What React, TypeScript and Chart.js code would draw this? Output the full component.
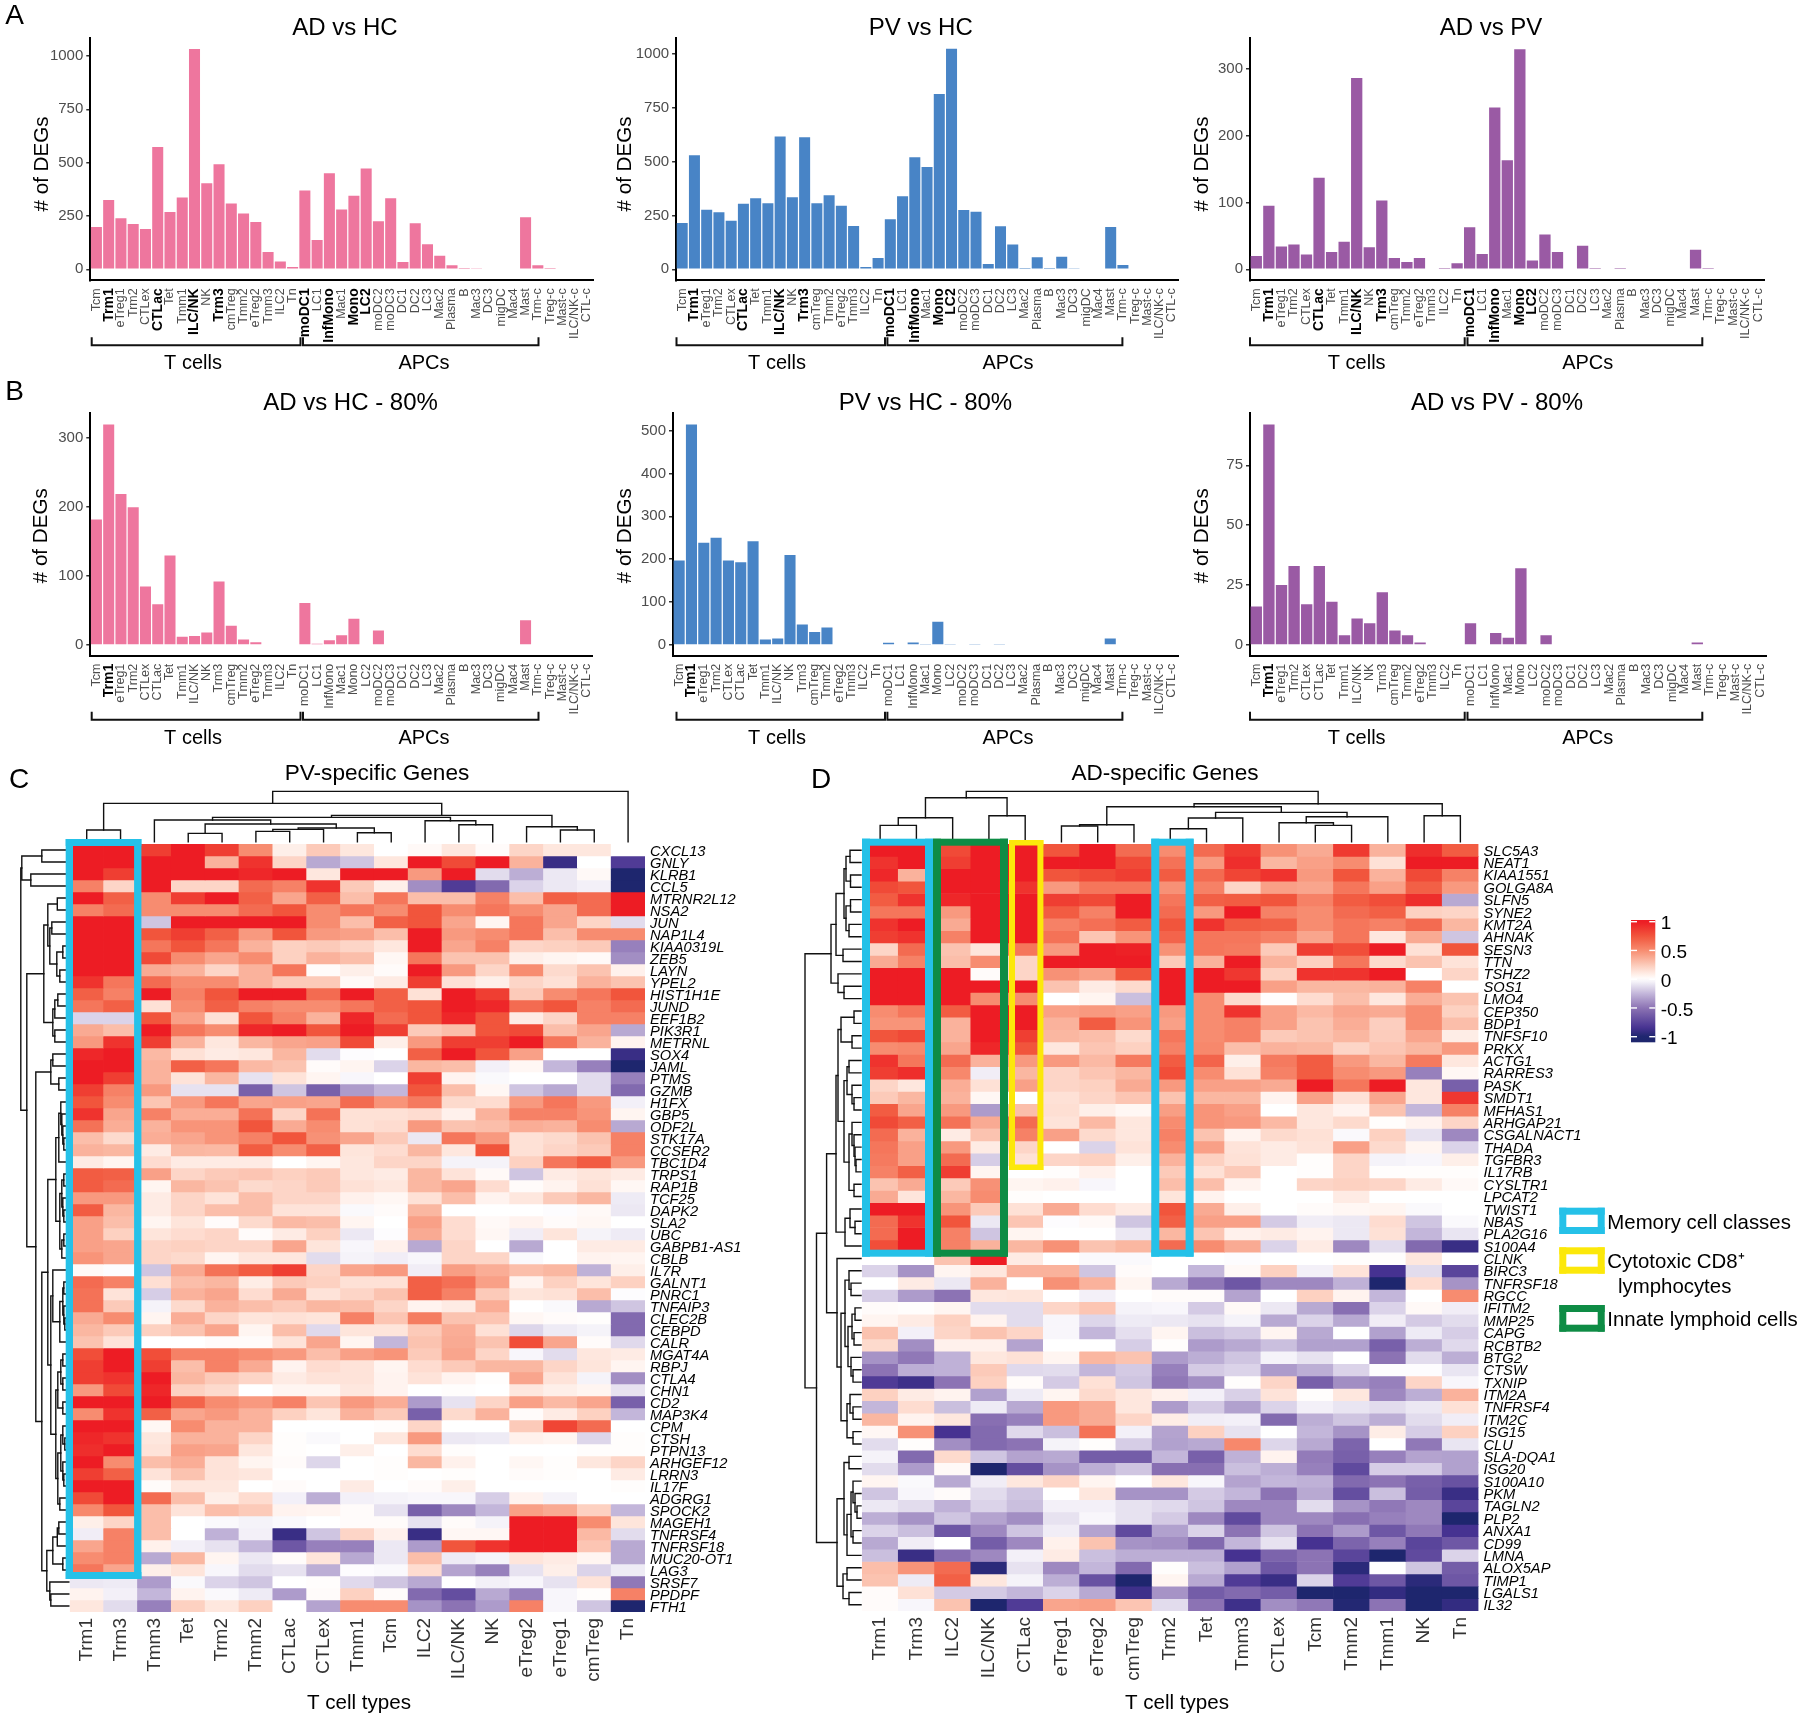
import React, { useEffect, useRef } from "react";
import { Chart, registerables } from "chart.js";

Chart.register(...registerables);
const FONT = '"Liberation Sans", Arial, sans-serif';
Chart.defaults.font.family = FONT;

/* ---------- bar chart data ---------- */
const cellTypes = ["Tcm","Trm1","eTreg1","Trm2","CTLex","CTLac","Tet","Tmm1","ILC/NK","NK","Trm3","cmTreg","Tmm2","eTreg2","Tmm3","ILC2","Tn","moDC1","LC1","InfMono","Mac1","Mono","LC2","moDC2","moDC3","DC1","DC2","LC3","Mac2","Plasma","B","Mac3","DC3","migDC","Mac4","Mast","Trm-c","Treg-c","Mast-c","ILC/NK-c","CTL-c"];
const boldRowA = ["Trm1","CTLac","ILC/NK","Trm3","moDC1","InfMono","Mono","LC2"];
const boldRowB = ["Trm1"];
const adHc = [198,325,239,212,189,573,269,337,1033,403,492,309,262,222,81,36,11,369,137,450,280,345,472,225,333,34,216,117,64,19,6,3,0,0,0,244,19,6,0,0,0];
const pvHc = [215,530,277,265,226,305,330,307,617,335,614,307,344,296,201,11,53,233,340,521,476,815,1025,276,268,25,200,116,6,56,6,59,5,0,0,197,20,0,0,0,0];
const adPv = [20,95,34,37,22,137,26,41,286,33,103,17,11,17,0,2,9,63,23,242,163,329,13,52,26,0,35,2,0,2,0,0,0,0,0,29,2,0,0,0,0];
const adHc80 = [182,320,219,200,85,59,130,12,13,18,92,28,8,4,0,0,0,61,2,7,14,38,1,21,1,0,1,0,0,0,0,0,0,0,0,36,0,0,0,0,0];
const pvHc80 = [197,514,238,250,197,193,242,13,15,210,48,30,41,0,0,0,0,5,0,6,2,54,1,0,1,0,1,0,0,0,0,0,0,0,0,15,0,0,0,0,0];
const adPv80 = [16,92,25,33,17,33,18,4,11,9,22,6,4,1,0,0,0,9,0,5,3,32,0,4,0,0,0,0,0,0,0,0,0,0,0,1,0,0,0,0,0];

/* ---------- heatmap C ---------- */
const columnsC = ["Trm1","Trm3","Tmm3","Tet","Trm2","Tmm2","CTLac","CTLex","Tmm1","Tcm","ILC2","ILC/NK","NK","eTreg2","eTreg1","cmTreg","Tn"];
const genesC = ["CXCL13","GNLY","KLRB1","CCL5","MTRNR2L12","NSA2","JUN","NAP1L4","KIAA0319L","ZEB5","LAYN","YPEL2","HIST1H1E","JUND","EEF1B2","PIK3R1","METRNL","SOX4","JAML","PTMS","GZMB","H1FX","GBP5","ODF2L","STK17A","CCSER2","TBC1D4","TRPS1","RAP1B","TCF25","DAPK2","SLA2","UBC","GABPB1-AS1","CBLB","IL7R","GALNT1","PNRC1","TNFAIP3","CLEC2B","CEBPD","CALR","MGAT4A","RBPJ","CTLA4","CHN1","CD2","MAP3K4","CPM","CTSH","PTPN13","ARHGEF12","LRRN3","IL17F","ADGRG1","SPOCK2","MAGEH1","TNFRSF4","TNFRSF18","MUC20-OT1","LAG3","SRSF7","PPDPF","FTH1"];
const heatC = [
[1,1,.85,1,.85,.5,.08,.25,.12,0,.03,.12,.02,.2,.12,.12,0],
[1,1,1,1,.35,.9,.2,-.3,-.2,.12,1,.8,1,.35,-.9,0,-.8],
[1,.85,1,1,1,.95,1,.12,1,1,.45,1,-.12,-.28,-.08,.03,-1],
[.55,.2,1,.2,.2,.65,.55,.9,.25,.08,-.4,-.8,-.55,-.15,-.08,-.05,-1],
[1,.7,.5,.85,1,.7,.4,.7,.3,.6,.3,.3,.55,.3,.7,.65,1],
[.55,.65,.5,.5,.5,.65,.75,.5,.6,.5,.75,.5,.6,.5,.4,.65,1],
[1,1,-.2,1,1,1,1,.5,.3,.7,.75,.4,.05,.6,.4,.2,-.12],
[1,1,.75,.85,.7,.45,.75,.45,.42,.3,1,.45,.5,.6,.3,.5,.5],
[1,1,.6,.75,.6,.35,.22,.25,.2,.12,1,.4,.55,.2,.22,.25,-.45],
[1,1,.8,.5,.4,.5,.22,.35,.3,.04,.6,.28,.28,.08,.05,.03,-.4],
[1,1,.38,.35,.2,.35,.6,.02,.08,.02,1,.45,.2,.5,.18,.28,.07],
[.9,.6,.65,.5,.5,.35,.25,.25,.03,.1,.85,.15,.08,.2,.15,.35,.28],
[.7,.55,1,.55,.75,1,1,.65,1,.7,.15,1,.85,.25,.5,.6,.75],
[.6,.7,.15,.5,.7,.55,.5,.5,.6,.7,.75,1,.95,.65,.75,.55,.65],
[-.15,-.15,.75,.42,.15,.75,.55,.35,.95,.65,.75,.95,.75,.1,.2,.55,.55],
[.38,.3,1,.6,.5,.95,1,.75,1,.85,.25,.3,.75,.8,.3,.4,-.3],
[.45,.9,.85,.35,.12,.33,.4,.42,.8,.08,.45,.85,.85,1,.6,.35,.06],
[.95,1,.32,.15,.1,.12,.33,-.12,-.01,0,.7,1,.75,.42,0,0,-.9],
[1,1,.35,.7,.6,.32,.28,.02,.05,-.15,.33,.3,-.05,.04,-.25,-.45,-1],
[1,.85,.35,.14,.33,-.1,.14,.05,-.03,0,.85,.06,-.02,0,0,-.12,-.45],
[.85,.55,.45,-.1,-.1,-.6,-.2,-.6,-.35,-.25,.75,.3,.04,-.2,-.3,-.12,-.55],
[.75,.5,.27,.45,.6,.4,.42,.4,.65,.47,.58,.18,.17,.45,.6,.45,-.05],
[.9,.4,.55,.37,.37,.62,.2,.62,.15,.15,.17,.07,.35,.55,.55,.47,.05],
[.62,.37,.35,.47,.47,.75,.38,.5,.15,.17,.45,.28,.3,.37,.35,.5,-.3],
[.3,.18,.37,.4,.47,.55,.75,.48,.4,.25,-.08,.6,.45,.15,.18,.28,.55],
[.35,.33,.1,.33,.32,.72,.5,.7,.13,.17,.33,.12,.75,.15,.2,.25,.55],
[.1,.05,.17,.1,.1,.1,0,.05,.12,.2,.2,-.04,-.04,.22,.6,.72,.45],
[.72,.7,.42,.2,.25,.27,.22,.25,.12,.1,.33,.14,.03,-.2,.1,.13,.1],
[.72,.65,.05,.33,.28,.18,.2,.25,.15,.12,.33,.4,.17,.02,.06,.15,.04],
[.45,.45,.1,.2,.14,.3,.2,.2,.07,.04,.15,.3,.06,.12,.25,.33,-.07],
[.72,.33,.1,.2,.3,.3,.14,.14,-.02,.02,.33,0,0,0,-.01,.03,-.08],
[.42,.3,.05,.13,.02,.18,.32,.3,.05,0,.42,.17,.03,.06,.02,.04,0],
[.42,.22,.13,.17,.2,.02,.1,.22,-.08,-.01,.38,.17,.04,-.06,.13,-.04,-.07],
[.42,.4,.2,.22,.2,.2,.4,.13,-.03,.07,-.3,.2,0,-.3,0,.1,.1],
[.47,.4,.2,.18,.05,.12,.12,-.12,-.04,-.06,-.03,.2,.2,-.02,0,.06,.05],
[.03,-.01,-.2,.38,.62,.72,.85,.2,.4,.45,-.06,.43,.37,.3,.33,-.27,.08],
[.65,.55,.16,.3,.33,.09,.25,.22,.15,.15,.7,.63,.42,.06,.22,.13,.22],
[.62,.14,-.17,.35,.4,.17,.38,.14,.2,.28,.7,.55,.25,.13,.15,.3,-.01],
[.62,.25,-.04,.18,.35,.3,.25,.33,.3,.2,.06,.1,.37,0,-.02,-.3,-.2],
[.38,.5,.05,.37,.2,.13,.15,.13,.55,.27,.57,.28,.27,.04,.02,.01,-.55],
[.33,.25,.22,.28,.4,.05,.3,-.13,.13,.13,.25,.37,.15,-.14,-.07,-.04,-.55],
[.28,.14,0,0,.02,.02,.14,.4,.05,-.25,.28,.38,.28,.78,.4,.02,-.13],
[.78,1,.78,.55,.55,.5,.45,.3,.42,.47,.25,.4,.2,-.03,-.12,.12,.1],
[.85,1,.85,.3,.55,.38,.06,.17,.14,.05,.17,.25,.33,.33,.2,.13,.05],
[.85,.9,1,.33,.25,.2,.1,.14,.14,.06,.14,.06,.01,.4,.14,-.04,-.4],
[.45,.8,.95,.22,.18,0,.05,.05,.12,.06,0,.01,0,.12,.08,.05,-.1],
[1,1,1,.68,.5,.45,.55,.27,.45,.37,-.35,-.1,.2,.42,.32,.4,-.6],
[.5,.9,.7,.4,.45,.35,.22,.13,.35,.25,-.6,.18,.35,.02,.1,.22,-.25],
[1,1,.04,.5,.35,.35,0,0,0,.01,.2,0,0,.25,.82,.65,0],
[.95,.9,.12,.35,.35,.2,.01,-.02,0,.12,.45,-.08,-.07,.07,.05,-.14,.01],
[.92,1,.14,.42,.4,.12,.01,0,.08,0,.17,.01,0,0,0,.01,.01],
[1,.5,.3,.37,.14,.05,.02,-.14,0,.01,.33,.07,0,.04,.01,.12,.2],
[.85,.7,.14,.28,.14,.12,0,0,0,.01,0,.01,0,.02,.01,0,.1],
[1,1,.02,.12,.12,0,.02,0,.1,0,.02,.08,0,0,0,0,.01],
[.8,1,.65,.3,.08,.17,-.05,-.28,-.05,-.04,-.03,-.03,-.17,.06,-.04,0,0],
[.52,.75,.3,.14,.3,.25,.06,.05,.02,-.1,-.6,-.42,-.25,.42,.38,.22,-.25],
[.08,.2,.3,0,-.02,-.04,-.02,0,.02,.02,-.1,.02,-.04,1,1,.5,.13],
[-.06,.55,.3,0,-.27,-.05,-.9,-.2,.2,.07,-.9,.04,.04,1,1,.32,-.12],
[.4,.55,.07,-.05,-.1,-.25,-.65,-.45,-.45,-.08,-.35,.75,.9,1,1,.27,-.3],
[.5,.55,-.3,.33,.05,-.08,.02,.13,-.3,-.08,.3,-.07,-.04,.13,.1,.05,-.3],
[.6,.4,.08,.13,-.03,-.12,-.1,-.28,-.01,-.02,.17,-.32,-.45,-.1,.08,-.15,-.07],
[-.08,-.07,-.35,-.02,-.15,-.2,0,.01,-.13,-.2,-.3,0,-.05,-.03,-.1,.14,-.48],
[.06,-.05,-.25,.06,-.02,-.07,-.35,.02,.22,.02,-.55,-.7,-.3,-.45,-.03,.01,.55],
[.12,-.12,-.45,.22,.12,.22,0,-.32,.5,.5,-.38,-.5,-.35,.55,-.03,-.2,-1],
];

/* ---------- heatmap D ---------- */
const columnsD = ["Trm1","Trm3","ILC2","ILC/NK","CTLac","eTreg1","eTreg2","cmTreg","Trm2","Tet","Tmm3","CTLex","Tcm","Tmm2","Tmm1","NK","Tn"];
const genesD = ["SLC5A3","NEAT1","KIAA1551","GOLGA8A","SLFN5","SYNE2","KMT2A","AHNAK","SESN3","TTN","TSHZ2","SOS1","LMO4","CEP350","BDP1","TNFSF10","PRKX","ACTG1","RARRES3","PASK","SMDT1","MFHAS1","ARHGAP21","CSGALNACT1","THADA","TGFBR3","IL17RB","CYSLTR1","LPCAT2","TWIST1","NBAS","PLA2G16","S100A4","CLNK","BIRC3","TNFRSF18","RGCC","IFITM2","MMP25","CAPG","RCBTB2","BTG2","CTSW","TXNIP","ITM2A","TNFRSF4","ITM2C","ISG15","CLU","SLA-DQA1","ISG20","S100A10","PKM","TAGLN2","PLP2","ANXA1","CD99","LMNA","ALOX5AP","TIMP1","LGALS1","IL32"];
const heatD = [
[1,1,.8,1,1,.75,1,.65,.5,.65,.87,.48,.38,.87,.35,.92,.72],
[.9,1,.85,1,1,1,1,.8,.62,.45,.92,.33,.42,.5,.15,1,1],
[.95,.35,1,1,1,.75,.8,.85,.72,.65,.82,.9,.45,.75,.35,.8,.55],
[.8,.75,1,1,.9,.45,.6,.6,.48,.55,.2,.42,.4,.6,.42,.7,.45],
[.72,.9,.95,1,1,.85,.8,1,.6,.7,.72,.75,.55,.72,.78,.92,-.3],
[.6,.6,.45,1,1,.72,.55,1,.65,.45,1,.55,.5,.65,.7,.22,.2],
[.9,1,.38,1,1,.55,.63,.72,.75,.9,.72,.7,.5,.6,.55,.65,.33],
[.85,.9,.55,1,1,.62,.27,.47,.68,.6,.6,.55,.4,.6,.12,.38,-.2],
[.2,.65,.28,.13,.6,.45,1,.98,.48,.6,.58,.25,.85,.78,1,.15,.75],
[.38,.55,.3,.5,.2,1,1,1,.25,.35,1,.35,.22,.6,.18,.28,.14],
[1,1,1,.02,.2,.48,.42,.75,1,1,.88,.22,.9,.9,1,0,.2],
[1,1,1,1,1,.28,.1,.18,1,1,1,.42,.33,.33,.35,.55,0],
[1,1,1,.5,.5,0,.05,-.22,1,.5,.18,.01,.17,.3,.12,.37,.28],
[.5,.6,.72,1,1,.42,.45,.42,.45,.5,.9,.42,.32,.4,.38,.5,.22],
[.47,.47,.35,1,1,.35,.72,.47,.42,.5,.55,.42,.28,.37,.23,.5,.3],
[.75,.8,.35,1,.85,.33,.3,.18,.6,.5,.55,.25,.28,.33,.24,.4,.09],
[.5,.52,.4,.95,.75,.12,.27,.22,.55,.52,.3,.35,.33,.2,.27,.33,.45],
[.9,.6,.65,.35,.45,.45,.32,.58,.72,.68,.08,.58,.72,.45,.33,.58,.12],
[.85,.92,.52,-.06,.33,.2,.27,.33,.78,.5,.15,.55,.72,.5,.45,-.45,.04],
[.2,.12,.37,.15,.42,.2,.22,.38,.45,.42,.42,.38,1,.6,1,.12,-.6],
[.25,.33,.35,.04,0,.15,.2,.27,.28,.33,.33,.06,.42,.15,.4,.12,.88],
[.72,.4,.45,-.35,.3,.16,.08,.04,.43,.47,.42,0,.12,.06,.28,-.25,.55],
[.8,.7,.62,.38,.65,.14,.32,.12,.5,.47,.45,.32,.12,.18,.01,.06,.2],
[.65,.35,.1,.28,.55,.42,.18,.12,.55,.28,.06,.18,.15,-.02,.22,-.1,-.42],
[.6,.42,.45,.1,.2,0,-.15,.14,.5,.42,.14,.1,.14,.42,.18,.05,-.15],
[.58,.42,.65,-.17,.15,.2,.22,.08,.35,.22,.15,.1,.01,.2,-.04,-.03,.08],
[.55,.7,.85,.05,0,.01,.07,0,.25,.15,.25,0,.01,.2,.01,.01,.01],
[.28,.38,.25,.48,.05,.07,-.03,0,.3,.3,.06,0,.2,.22,.2,.1,.03],
[.38,.13,.33,.5,.01,0,0,0,.13,.06,0,0,0,.1,0,0,0],
[1,1,.47,.25,.15,.38,.17,.1,.75,.38,.08,0,.02,.04,.05,-.02,0],
[.65,.9,.75,-.08,.27,-.01,.03,-.2,.7,.42,.42,-.18,-.06,-.08,.17,-.2,-.02],
[.65,1,.55,-.2,.05,0,0,-.08,.33,.27,.07,.1,.06,-.08,.15,-.25,-.09],
[.78,1,.55,.35,.33,.48,.28,.33,.65,.5,.38,-.15,.1,-.42,-.12,-.55,-.9],
[0,0,.28,1,.1,0,-.02,-.02,0,0,-.01,0,0,.01,.01,.12,0],
[-.15,-.38,.05,.12,.35,.35,-.2,.02,0,-.25,.03,.22,-.05,.14,-.85,-.12,-.75],
[0,.1,-.08,.35,0,.48,.35,.05,-.3,-.48,-.65,-.42,-.42,-.27,-1,.17,-.38],
[-.17,-.35,-.5,.12,.13,0,-.05,0,.02,.02,-.32,0,.22,.06,-.25,0,.5],
[.02,.01,.05,-.12,-.12,.2,.27,-.04,-.03,-.18,.03,-.08,-.3,-.52,-.15,.03,-.06],
[.05,.1,.22,.06,-.12,-.03,-.14,-.07,-.08,-.1,-.04,-.3,-.15,-.3,-.06,-.18,-.12],
[.28,-.05,.2,.28,.2,-.03,-.25,-.11,.05,-.22,-.18,.05,-.3,0,-.33,-.07,-.17],
[.18,-.4,.07,.07,-.32,0,0,-.17,.01,-.35,-.3,-.22,-.33,-.33,-.6,-.28,-.13],
[-.38,-.48,-.27,.12,.15,.05,.33,.28,-.35,-.28,-.2,-.04,-.1,0,-.5,-.12,-.28],
[-.5,-.28,-.27,.25,-.13,-.12,-.25,-.18,-.45,-.18,-.15,-.35,-.28,-.15,-.01,-.01,-.09],
[-.8,-.88,-.5,.22,.02,-.18,.15,-.2,-.48,-.4,.01,.2,-.6,-.4,-.45,.2,-.03],
[.22,.1,.06,-.33,-.07,.05,.18,.12,.07,-.05,-.16,.14,.01,.12,-.42,-.28,.35],
[-.25,.17,-.22,-.07,-.3,.45,.38,.12,-.35,-.18,-.33,-.15,-.05,-.09,-.12,-.08,.15],
[.33,.06,.12,-.52,-.45,.45,.38,.2,.09,-.06,-.05,-.55,-.28,-.2,-.28,-.12,-.06],
[.04,.48,-.85,-.55,-.13,-.22,.62,-.05,-.32,.22,-.1,0,-.25,-.38,.09,-.17,.22],
[-.12,.01,-.4,-.55,-.5,-.04,.01,-.17,-.33,-.3,.52,-.14,-.3,-.58,0,-.48,-.09],
[-.04,-.55,.18,-.2,-.32,-.3,-.62,-.62,-.25,-.6,-.27,.06,-.47,-.6,-.45,-.32,-.33],
[-.12,-.35,.03,-1,-.7,-.38,-.28,-.2,-.52,-.52,-.22,-.28,-.45,-.72,-.17,-.17,-.33],
[.05,-.02,-.3,-.06,.12,.2,.05,0,.12,-.03,-.32,-.25,-.27,-.55,-.5,-.6,-.68],
[-.2,-.03,.02,-.12,-.2,0,.12,-.38,-.38,-.18,-.25,-.5,-.3,-.7,-.22,-.62,-.9],
[-.08,-.12,-.27,-.15,-.22,-.05,-.05,-.1,-.13,-.2,-.42,-.42,-.12,-.38,-.48,-.42,-.75],
[-.28,-.38,-.2,-.32,-.4,-.1,-.03,-.1,-.18,-.42,-.72,-.42,-.42,-.52,-.45,-.42,-1],
[-.15,-.22,-.65,-.42,-.2,-.06,-.32,-.72,-.33,-.15,-.5,-.2,-.5,-.35,-.65,-.48,-.85],
[-.3,-.06,0,-.62,-.42,.07,.28,-.38,-.4,-.55,-.25,-.1,-.85,-.58,-.45,-.75,-.65],
[-.22,-.9,-.52,-.42,-.05,.1,-.22,-.28,-.28,-.28,-.85,-.58,-.5,-.75,-1,-.72,-.15],
[.3,.47,.65,-.95,-.1,-.42,-.25,-.55,.01,-.22,-.33,-.65,-.5,-.95,0,-.2,-.62],
[.28,-.07,.7,.12,-.04,-.28,-.68,-1,.05,-.3,-.8,-.9,-.15,-.8,-.65,-.95,-.65],
[.02,.15,-.18,-.18,-.25,-.15,-.3,-.88,-.38,-.62,-.55,-.62,-1,-1,-.92,-1,-1],
[.02,-.03,.28,-1,-.8,.4,.42,.27,-.12,-.5,-.88,-.4,-.48,-.98,-.5,-1,-.92],
];

/* ---------- dendrograms: leaf | [left, right, merge height] ---------- */
type Tree = number | [Tree, Tree, number];
const colTreeC: Tree = [[[0,1,11.7],[[[2,[[3,4,8.3],[[[5,6,10.3],7,12.3],[8,9,9],13.7],17.7],21.7],[10,[11,12,17],21],24.3],[13,[14,15,11.7],15],26.3],38.3],16,50.3];
const colTreeD: Tree = [[[[0,1,16.3],2,24],[3,4,26],44],[[[[5,6,15.7],7,17],[[[8,9,13],10,23.7],[[11,[12,13,16.3],19],14,25],29.3],35],[15,16,26],38],50.3];
const rowTreeC: Tree = [
  [[0,1,27],[2,3,38],47],
  [
    [
      [[4,5,11.5],[[6,7,17],[[8,9,6],[10,11,9],12],19],21],
      [[[12,13,11],14,14],[15,16,14],16],
      25,
    ],
    [
      [[17,18,16],[19,20,10],18],
      [
        [
          [
            [[21,[22,[23,[24,25,5],6],7],8],26,10],
            [[[27,28,5],[29,[30,31,5],6],7],[[32,33,5],34,7],9],
            13,
          ],
          [
            [35,[[[36,37,5],[38,[39,40,4],5],6],41,9],16],
            [[[[42,43,6],[44,45,6],8],[46,47,6],11],[[[48,[49,50,4],6],[51,[52,53,5],6],8],[54,55,9],11],13],
            18,
          ],
          21,
        ],
        [[[[56,57,10],58,11.5],[59,60,6],16],[61,[62,63,18],19],22],
        27,
      ],
      33,
    ],
    42,
  ],
  48,
];
const rowTreeD: Tree = [
  [
    [[[[0,1,11],[2,3,10.5],15],[[4,5,10.5],[6,7,12],15],17],[8,9,18],25],
    [10,[11,12,17],23],
    30,
  ],
  [
    [
      [
        [[[13,14,7],[15,16,9],20],[[[17,18,12],[19,[20,21,7],9],14],[[22,[23,[24,[25,26,5],6],7],9],[27,28,7],12],17],23],
        [[29,[30,31,6],11],32,16],
        25,
      ],
      [33,[[[34,[35,36,10],12],[[[37,38,6],[39,40,7],9],[41,[42,43,8],10],13],16],[[44,[45,46,8],11],[47,48,8],14],20],24],
      34.4,
    ],
    [
      [[49,50,12],[[[51,[52,[53,54,4],6],8],[55,56,8],10],57,14],17],
      [[58,59,14],[60,61,12],18],
      24,
    ],
    44.5,
  ],
  56,
];

/* ---------- colour scale ---------- */
const colorStops: [number, number, number, number][] = [
  [-1,30,38,110],[-.85,70,50,145],[-.5,140,115,180],[-.25,195,182,218],[0,255,255,255],
  [.15,254,225,214],[.3,251,190,170],[.5,247,140,112],[.75,241,85,60],[1,237,28,36],
];
function heatColor(v: number) {
  const t = Math.max(-1, Math.min(1, v));
  for (let i = 1; i < colorStops.length; i++) {
    const a = colorStops[i - 1], b = colorStops[i];
    if (t <= b[0]) {
      const f = (t - a[0]) / (b[0] - a[0]);
      const c = [1, 2, 3].map((k) => Math.round(a[k] + (b[k] - a[k]) * f));
      return `rgb(${c[0]},${c[1]},${c[2]})`;
    }
  }
  return "rgb(237,28,36)";
}

/* ---------- drawing helpers ---------- */
function put(ctx: any, text: string, x: number, y: number, size: number, opt: any = {}) {
  ctx.save();
  ctx.translate(x, y);
  if (opt.rot) ctx.rotate(opt.rot);
  ctx.font = `${opt.style || ""} ${size}px ${FONT}`;
  ctx.fillStyle = opt.color || "#000";
  ctx.textAlign = opt.align || "center";
  ctx.textBaseline = "middle";
  ctx.fillText(text, 0, 2);
  ctx.restore();
}
function frame(ctx: any, x0: number, y0: number, x1: number, y1: number, tx: number, ty: number, color: string) {
  ctx.fillStyle = color;
  ctx.fillRect(x0, y0, x1 - x0, ty);
  ctx.fillRect(x0, y1 - ty, x1 - x0, ty);
  ctx.fillRect(x0, y0, tx, y1 - y0);
  ctx.fillRect(x1 - tx, y0, tx, y1 - y0);
}
function drawTree(ctx: any, node: Tree, toPos: (p: number) => number, toH: (h: number) => number, vertical: boolean): [number, number] {
  if (typeof node === "number") return [node, 0];
  const [a, ha] = drawTree(ctx, node[0], toPos, toH, vertical);
  const [b, hb] = drawTree(ctx, node[1], toPos, toH, vertical);
  const h = node[2];
  ctx.beginPath();
  if (vertical) {
    ctx.moveTo(toPos(a), toH(ha)); ctx.lineTo(toPos(a), toH(h)); ctx.lineTo(toPos(b), toH(h)); ctx.lineTo(toPos(b), toH(hb));
  } else {
    ctx.moveTo(toH(ha), toPos(a)); ctx.lineTo(toH(h), toPos(a)); ctx.lineTo(toH(h), toPos(b)); ctx.lineTo(toH(hb), toPos(b));
  }
  ctx.stroke();
  return [(a + b) / 2, h];
}

/* ---------- bar panel ---------- */
function barConfig(p: any, ox: number, oy: number, W: number, H: number) {
  const left = p.first - p.step / 2 - ox;
  const right = p.first + 40.5 * p.step - ox;
  const top = p.top - oy;
  const bottom = p.bottom - oy;
  const bold: string[] = p.bold;
  return {
    type: "bar",
    data: {
      labels: cellTypes,
      datasets: [{ data: p.values, backgroundColor: p.color, borderWidth: 0, barPercentage: 0.9, categoryPercentage: 1 }],
    },
    options: {
      animation: false, responsive: false, events: [],
      layout: { padding: { top, right: W - right, left: 0, bottom: 0 } },
      plugins: { legend: { display: false }, tooltip: { enabled: false } },
      scales: {
        x: {
          type: "category", offset: true,
          grid: { display: false, drawTicks: false },
          border: { display: true, color: "#000", width: 2 },
          ticks: {
            autoSkip: false, minRotation: 90, maxRotation: 90, padding: 8,
            font: (c: any) => {
              const b = bold.includes(c.tick?.label);
              return { size: b ? 14 : 12.5, family: FONT, weight: b ? "bold" : "normal" };
            },
            color: (c: any) => (bold.includes(c.tick?.label) ? "#000" : "#4d4d4d"),
          },
          afterFit: (s: any) => { s.height = H - bottom; },
        },
        y: {
          type: "linear", min: p.min, max: p.max,
          grid: { display: true, drawOnChartArea: false, drawTicks: true, tickLength: 4, tickColor: "#333", lineWidth: 1.5 },
          border: { display: true, color: "#000", width: 2 },
          ticks: { padding: 3, color: "#4d4d4d", font: { size: 15, family: FONT }, callback: (v: number) => String(v) },
          afterBuildTicks: (s: any) => { s.ticks = p.ticks.map((v: number) => ({ value: v })); },
          afterFit: (s: any) => { s.width = left; },
        },
      },
    },
    plugins: [{
      id: "panelText",
      afterDraw(chart: any) {
        const ctx = chart.ctx;
        ctx.save();
        ctx.translate(-ox, -oy);
        put(ctx, p.title, p.titleX, p.titleY, 24);
        put(ctx, "# of DEGs", p.labelX, p.labelY, 20.6, { rot: -Math.PI / 2 });
        ctx.strokeStyle = "#111";
        ctx.lineWidth = 2;
        for (const b of p.brackets) {
          ctx.beginPath();
          ctx.moveTo(b.from, p.bracketY - 8);
          ctx.lineTo(b.from, p.bracketY);
          ctx.lineTo(b.to, p.bracketY);
          ctx.lineTo(b.to, p.bracketY - 8);
          ctx.stroke();
          put(ctx, b.text, b.textX, p.bracketY + 16.5, 20);
        }
        if (p.letter) put(ctx, p.letter, p.letterX, p.letterY, 28);
        ctx.restore();
      },
    }],
  };
}

const colBrackets = [
  [{ from: 91.7, to: 300.5, text: "T cells", textX: 193 }, { from: 303, to: 538.5, text: "APCs", textX: 424 }],
  [{ from: 676.5, to: 885, text: "T cells", textX: 777 }, { from: 887.4, to: 1122.4, text: "APCs", textX: 1008 }],
  [{ from: 1250, to: 1464.7, text: "T cells", textX: 1356.7 }, { from: 1467.5, to: 1702.3, text: "APCs", textX: 1587.7 }],
];
const rowA = { top: 38.3, bottom: 280.3, titleY: 26.7, labelY: 164, bracketY: 345.3, bold: boldRowA };
const rowB = { top: 413.3, bottom: 655.7, titleY: 401.7, labelY: 535.8, bracketY: 719.7, bold: boldRowB };
const PINK = "#EE769E", BLUE = "#4884C6", PURPLE = "#9A5AA4";
const panels = [
  { ...rowA, box: [0, 0, 610, 375], first: 96.5, step: 12.44, values: adHc, color: PINK, title: "AD vs HC", titleX: 345, labelX: 40, min: -51.6, max: 1083, ticks: [0,250,500,750,1000], brackets: colBrackets[0], letter: "A", letterX: 14.6, letterY: 14 },
  { ...rowA, box: [610, 0, 585, 375], first: 682.3, step: 12.44, values: pvHc, color: BLUE, title: "PV vs HC", titleX: 920.7, labelX: 623, min: -51, max: 1074, ticks: [0,250,500,750,1000], brackets: colBrackets[1] },
  { ...rowA, box: [1180, 0, 620, 375], first: 1256.3, step: 12.55, values: adPv, color: PURPLE, title: "AD vs PV", titleX: 1491, labelX: 1200.6, min: -16.5, max: 345.4, ticks: [0,100,200,300], brackets: colBrackets[2] },
  { ...rowB, box: [0, 375, 610, 375], first: 96.5, step: 12.4, values: adHc80, color: PINK, title: "AD vs HC - 80%", titleX: 350.5, labelX: 39.5, min: -15.5, max: 336.2, ticks: [0,100,200,300], brackets: colBrackets[0], letter: "B", letterX: 14.6, letterY: 390 },
  { ...rowB, box: [610, 375, 585, 375], first: 679.2, step: 12.42, values: pvHc80, color: BLUE, title: "PV vs HC - 80%", titleX: 925.5, labelX: 623, min: -25, max: 540, ticks: [0,100,200,300,400,500], brackets: colBrackets[1] },
  { ...rowB, box: [1180, 375, 620, 375], first: 1256.3, step: 12.6, values: adPv80, color: PURPLE, title: "AD vs PV - 80%", titleX: 1497, labelX: 1200.6, min: -4.5, max: 96.7, ticks: [0,25,50,75], brackets: colBrackets[2] },
];

/* ---------- heatmap panel ---------- */
const labelNudge = 0.12;
function heatConfig(h: any, ox: number, oy: number, W: number, Ht: number) {
  const left = h.left - ox, right = h.right - ox, top = h.top - oy, bottom = h.bottom - oy;
  const genes: string[] = h.genes;
  return {
    type: "bar",
    data: {
      labels: h.columns,
      datasets: h.values.map((row: number[]) => ({
        data: row.map(() => 1),
        backgroundColor: row.map(heatColor),
        borderWidth: 0,
        barPercentage: 1,
        categoryPercentage: 1,
      })),
    },
    options: {
      animation: false, responsive: false, events: [],
      layout: { padding: { top, left, right: 0, bottom: 0 } },
      plugins: { legend: { display: false }, tooltip: { enabled: false } },
      scales: {
        x: {
          type: "category", stacked: true, offset: true,
          grid: { display: false, drawTicks: false }, border: { display: false },
          ticks: { autoSkip: false, minRotation: 90, maxRotation: 90, padding: 6, color: "#333", font: { size: 19, family: FONT } },
          afterFit: (s: any) => { s.height = Ht - bottom; },
        },
        y: {
          type: "linear", stacked: true, position: "right", min: 0, max: genes.length, reverse: true,
          grid: { display: false, drawTicks: false }, border: { display: false },
          ticks: {
            autoSkip: false, padding: 5, color: "#000",
            font: { size: 14.7, style: "italic", family: FONT },
            callback: (v: number) => genes[Math.round(v - 0.5 - labelNudge)],
          },
          afterBuildTicks: (s: any) => { s.ticks = genes.map((_, i) => ({ value: i + 0.5 + labelNudge })); },
          afterFit: (s: any) => { s.width = W - right; },
        },
      },
    },
    plugins: [{
      id: "heatExtras",
      afterDraw(chart: any) {
        const ctx = chart.ctx, xs = chart.scales.x, ys = chart.scales.y;
        ctx.save();
        ctx.strokeStyle = "#111";
        ctx.lineWidth = 1.4;
        ctx.lineCap = "square";
        drawTree(ctx, h.colTree, (p: number) => xs.getPixelForValue(p), (v: number) => top - 2.3 - v, true);
        drawTree(ctx, h.rowTree, (p: number) => ys.getPixelForValue(p + 0.5), (v: number) => left - 1 - v, false);
        ctx.translate(-ox, -oy);
        put(ctx, h.title, h.titleX, 771.7, 22.6);
        put(ctx, "T cell types", h.axisX, 1701.7, 20.6);
        put(ctx, h.letter, h.letterX, 778, 28);
        for (const b of h.boxes) frame(ctx, b[0], b[1], b[2], b[3], b[4], b[5], b[6]);
        if (h.legend) h.legend(ctx);
        ctx.restore();
      },
    }],
  };
}

const CYAN = "#25C1E8", GREEN = "#0E8C45", YELLOW = "#FCE80A";
const colorBarTicks = [1, 0.5, 0, -0.5, -1];
function drawLegend(ctx: any) {
  const x0 = 1631, x1 = 1655.3, y0 = 920, y1 = 1042.3;
  const yOf = (v: number) => 979.2 - v * 57.5;
  const g = ctx.createLinearGradient(0, y0, 0, y1);
  for (let i = 0; i <= 40; i++) {
    const yy = y0 + ((y1 - y0) * i) / 40;
    const val = (979.2 - yy) / 57.5;
    g.addColorStop(i / 40, heatColor(val));
  }
  ctx.fillStyle = g;
  ctx.fillRect(x0, y0, x1 - x0, y1 - y0);
  ctx.fillStyle = "#fff";
  for (const v of colorBarTicks) {
    ctx.fillRect(x0, yOf(v) - 0.7, 6, 1.4);
    ctx.fillRect(x1 - 6, yOf(v) - 0.7, 6, 1.4);
    put(ctx, String(v), 1660.7, yOf(v) + 0.5, 19, { align: "left" });
  }
  frame(ctx, 1559.3, 1207.7, 1604.7, 1234, 7, 7, CYAN);
  frame(ctx, 1559.3, 1247.3, 1604.7, 1273.7, 7, 7, YELLOW);
  frame(ctx, 1559.3, 1305, 1604.7, 1331.7, 7, 7, GREEN);
  put(ctx, "Memory cell classes", 1607.3, 1221.7, 20.4, { align: "left" });
  put(ctx, "Cytotoxic CD8\u207A", 1607.3, 1260, 20.4, { align: "left" });
  put(ctx, "lymphocytes", 1618, 1285, 20.4, { align: "left" });
  put(ctx, "Innate lymphoid cells", 1607.3, 1318, 20.4, { align: "left" });
}

const heatPanels = [
  {
    box: [0, 750, 790, 967], left: 69.8, right: 645, top: 844, bottom: 1612,
    columns: columnsC, genes: genesC, values: heatC, colTree: colTreeC, rowTree: rowTreeC,
    title: "PV-specific Genes", titleX: 377, axisX: 359, letter: "C", letterX: 19,
    boxes: [[65.7, 839, 141.4, 1579, 7.3, 7, CYAN]],
  },
  {
    box: [790, 750, 1010, 967], left: 862, right: 1478.5, top: 844, bottom: 1611,
    columns: columnsD, genes: genesD, values: heatD, colTree: colTreeD, rowTree: rowTreeD,
    title: "AD-specific Genes", titleX: 1165, axisX: 1177, letter: "D", letterX: 821,
    boxes: [
      [862, 838.7, 933, 1256.7, 8, 7, CYAN],
      [1151.3, 838.7, 1193.6, 1256.7, 8, 7, CYAN],
      [933, 838.7, 1008, 1256.7, 8, 7, GREEN],
      [1009, 840, 1043.4, 1170, 6, 5.5, YELLOW],
    ],
    legend: drawLegend,
  },
];

function ChartBox({ box, build }: { box: number[]; build: (ox: number, oy: number, w: number, h: number) => any }) {
  const ref = useRef<HTMLCanvasElement>(null);
  useEffect(() => {
    const chart = new Chart(ref.current as any, build(box[0], box[1], box[2], box[3]));
    return () => chart.destroy();
  }, []);
  return (
    <canvas
      ref={ref}
      width={box[2]}
      height={box[3]}
      style={{ position: "absolute", left: box[0], top: box[1], width: box[2], height: box[3] }}
    />
  );
}

export default function App() {
  return (
    <div style={{ position: "absolute", left: 0, top: 0, width: 1800, height: 1717, background: "#fff", overflow: "hidden" }}>
      {panels.map((p, i) => (
        <ChartBox key={i} box={p.box} build={(ox, oy, w, h) => barConfig(p, ox, oy, w, h)} />
      ))}
      {heatPanels.map((h, i) => (
        <ChartBox key={"h" + i} box={h.box} build={(ox, oy, w, ht) => heatConfig(h, ox, oy, w, ht)} />
      ))}
    </div>
  );
}
